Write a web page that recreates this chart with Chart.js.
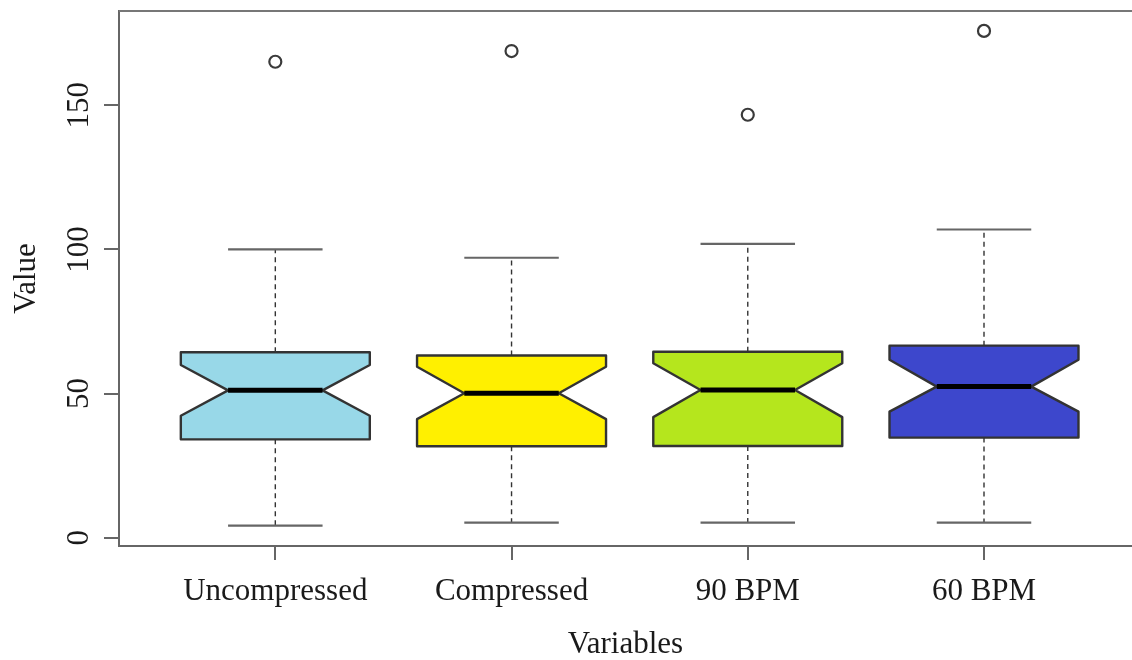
<!DOCTYPE html>
<html>
<head>
<meta charset="utf-8">
<script src="https://cdn.jsdelivr.net/npm/chart.js@4.4.1/dist/chart.umd.min.js"></script>
<style>
  html, body { margin: 0; padding: 0; background: #fff; }
</style>
</head>
<body>
<canvas id="boxes" width="1132" height="660"></canvas>
<script>
// values (notched boxplot, one box per variable)
const categories = ['Uncompressed', 'Compressed', '90 BPM', '60 BPM'];
const whiskerLow = [4.2, 5.2, 5.2, 5.2];
const q1 = [34.1, 31.7, 31.8, 34.7];
const notchLow = [42.3, 41.1, 41.8, 43.7];
const median = [51.1, 50.1, 51.2, 52.4];
const notchHigh = [59.9, 59.3, 60.5, 61.7];
const q3 = [64.3, 63.2, 64.5, 66.6];
const whiskerHigh = [100.0, 97.1, 101.9, 106.9];
const outliers = [165.1, 168.8, 146.7, 175.8];
const boxColors = ['#98d8e8', '#fff000', '#b5e61d', '#3d47cc'];
const yTicks = [0, 50, 100, 150];

const serif = "'Liberation Serif', 'DejaVu Serif', serif";
const axisGray = '#666';

// drop the extra room Chart.js keeps for half-labels
function noPad(s) {
  s.paddingTop = 0; s.paddingBottom = 0; s.paddingLeft = 0; s.paddingRight = 0;
}

// draws whiskers, staples and the notched boxes from the scales
const notchedBoxes = {
  id: 'notchedBoxes',
  beforeDatasetsDraw(chart) {
    const ctx = chart.ctx;
    const xs = chart.scales.x;
    const ys = chart.scales.y;
    ctx.save();
    categories.forEach((c, i) => {
      const x = xs.getPixelForValue(i + 1);
      const half = xs.getPixelForValue(i + 1.4) - x;
      const inner = xs.getPixelForValue(i + 1.2) - x;
      const Y = v => ys.getPixelForValue(v);

      // whiskers
      ctx.strokeStyle = '#333';
      ctx.lineWidth = 1.4;
      ctx.setLineDash([5, 4]);
      ctx.beginPath();
      ctx.moveTo(x, Y(q3[i])); ctx.lineTo(x, Y(whiskerHigh[i]));
      ctx.moveTo(x, Y(q1[i])); ctx.lineTo(x, Y(whiskerLow[i]));
      ctx.stroke();
      ctx.setLineDash([]);

      // staples
      ctx.strokeStyle = '#666';
      ctx.lineWidth = 2.2;
      ctx.beginPath();
      ctx.moveTo(x - inner, Y(whiskerHigh[i])); ctx.lineTo(x + inner, Y(whiskerHigh[i]));
      ctx.moveTo(x - inner, Y(whiskerLow[i])); ctx.lineTo(x + inner, Y(whiskerLow[i]));
      ctx.stroke();

      // notched box
      ctx.beginPath();
      ctx.moveTo(x - half, Y(q3[i]));
      ctx.lineTo(x + half, Y(q3[i]));
      ctx.lineTo(x + half, Y(notchHigh[i]));
      ctx.lineTo(x + inner, Y(median[i]));
      ctx.lineTo(x + half, Y(notchLow[i]));
      ctx.lineTo(x + half, Y(q1[i]));
      ctx.lineTo(x - half, Y(q1[i]));
      ctx.lineTo(x - half, Y(notchLow[i]));
      ctx.lineTo(x - inner, Y(median[i]));
      ctx.lineTo(x - half, Y(notchHigh[i]));
      ctx.closePath();
      ctx.fillStyle = boxColors[i];
      ctx.fill();
      ctx.strokeStyle = '#333';
      ctx.lineWidth = 2.4;
      ctx.lineJoin = 'round';
      ctx.stroke();

      // median
      ctx.strokeStyle = '#000';
      ctx.lineWidth = 5;
      ctx.beginPath();
      ctx.moveTo(x - inner, Y(median[i])); ctx.lineTo(x + inner, Y(median[i]));
      ctx.stroke();
    });
    ctx.restore();
  },
  afterDraw(chart) {
    // top frame line
    const { ctx, chartArea } = chart;
    ctx.save();
    ctx.strokeStyle = '#777';
    ctx.lineWidth = 2;
    ctx.beginPath();
    ctx.moveTo(chartArea.left, chartArea.top);
    ctx.lineTo(chartArea.right, chartArea.top);
    ctx.stroke();
    ctx.restore();
  }
};

new Chart(document.getElementById('boxes'), {
  type: 'scatter',
  data: {
    datasets: [{
      label: 'Outliers',
      data: outliers.map((v, i) => ({ x: i + 1, y: v })),
      pointStyle: 'circle',
      pointRadius: 6,
      pointBorderWidth: 2.2,
      pointBorderColor: '#3a3a3a',
      pointBackgroundColor: '#fff'
    }]
  },
  options: {
    responsive: false,
    animation: false,
    layout: { autoPadding: false, padding: { top: 11, right: 0, left: 0, bottom: 0 } },
    plugins: { legend: { display: false }, tooltip: { enabled: false } },
    scales: {
      x: {
        type: 'linear',
        min: 0.3383,
        max: 4.6265,
        afterBuildTicks: s => { s.ticks = categories.map((c, i) => ({ value: i + 1 })); },
        afterFit: s => { s.height = 114; noPad(s); },
        border: { display: true, color: axisGray, width: 2 },
        grid: { drawOnChartArea: false, drawTicks: true, tickLength: 14, color: axisGray, lineWidth: 2 },
        ticks: {
          autoSkip: false,
          maxRotation: 0,
          padding: 13,
          color: '#1a1a1a',
          font: { family: serif, size: 31 },
          callback: v => categories[v - 1]
        },
        title: {
          display: true,
          text: 'Variables',
          color: '#1a1a1a',
          font: { family: serif, size: 31, lineHeight: 1.0 },
          padding: { top: 0, bottom: 0 }
        }
      },
      y: {
        min: -2.9,
        max: 182.7,
        afterBuildTicks: s => { s.ticks = yTicks.map(v => ({ value: v })); },
        afterFit: s => { s.width = 119; noPad(s); },
        border: { display: true, color: axisGray, width: 2 },
        grid: { drawOnChartArea: false, drawTicks: true, tickLength: 15, color: axisGray, lineWidth: 2 },
        ticks: {
          minRotation: 90,
          maxRotation: 90,
          crossAlign: 'center',
          padding: 1,
          color: '#1a1a1a',
          font: { family: serif, size: 31 }
        },
        title: {
          display: true,
          text: 'Value',
          color: '#1a1a1a',
          font: { family: serif, size: 31, lineHeight: 1.2 },
          padding: { top: 8, bottom: 0 }
        }
      }
    }
  },
  plugins: [notchedBoxes]
});
</script>
</body>
</html>
